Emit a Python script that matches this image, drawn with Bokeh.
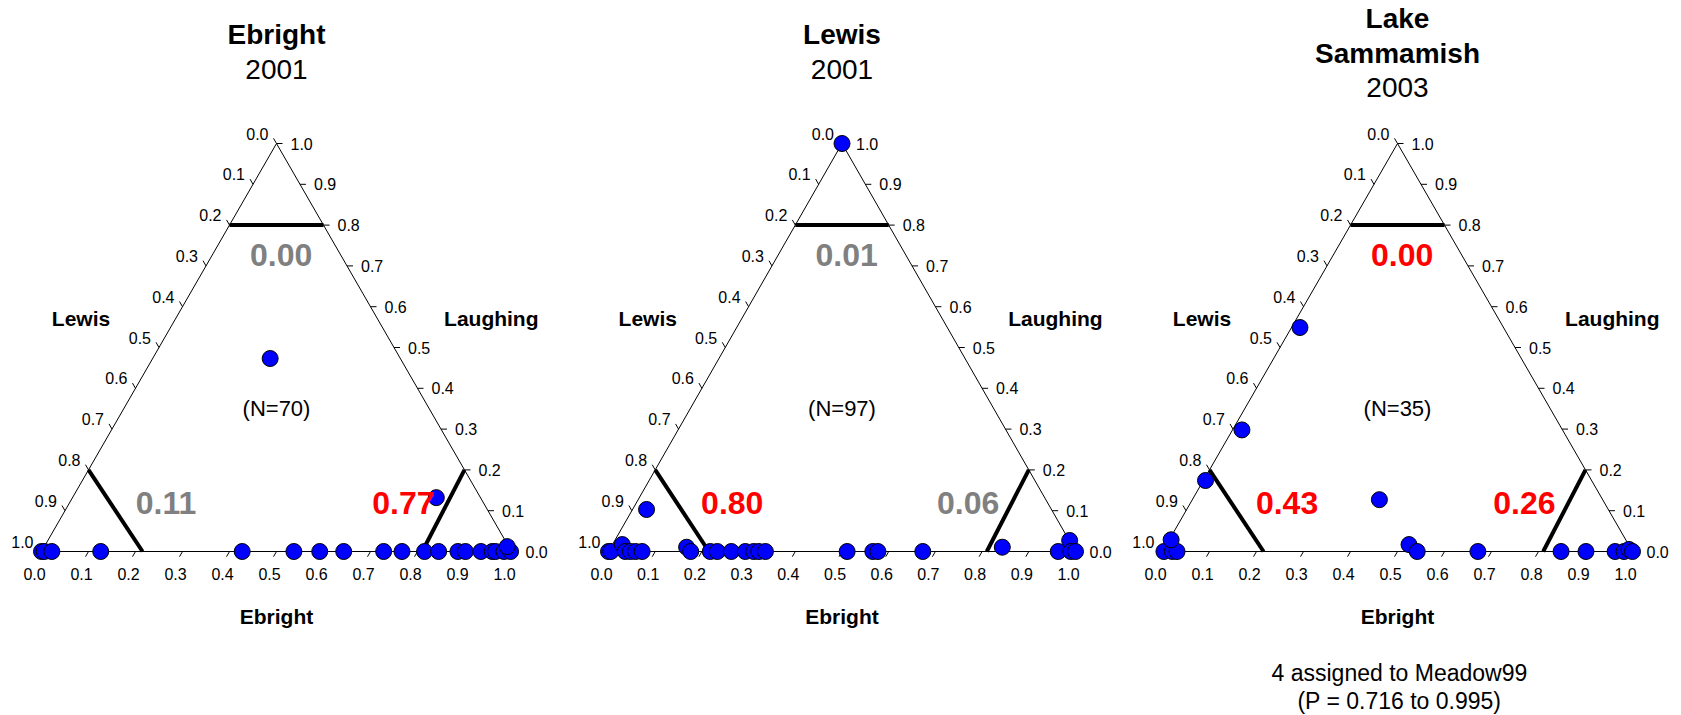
from bokeh.plotting import figure
from bokeh.layouts import row
from bokeh.models import Range1d
from bokeh.core.properties import value
from bokeh.embed import file_html
from bokeh.resources import INLINE

# ---------------- data ----------------
titles = [["Ebright", "2001"], ["Lewis", "2001"], ["Lake", "Sammamish", "2003"]]
n_labels = ["(N=70)", "(N=97)", "(N=35)"]
prob_top = ["0.00", "0.01", "0.00"]
prob_left = ["0.11", "0.80", "0.43"]
prob_right = ["0.77", "0.06", "0.26"]
col_top = ["#808080", "#808080", "#ff0000"]
col_left = ["#808080", "#ff0000", "#ff0000"]
col_right = ["#ff0000", "#808080", "#ff0000"]

# Ebright and Laughing proportions of each fish (Lewis = 1 - both)
ebright_1 = [0.0, 0.006, 0.022, 0.126, 0.427, 0.537, 0.592, 0.643, 0.728, 0.767,
             0.815, 0.845, 0.886, 0.902, 0.935, 0.959, 0.966, 0.984, 0.998, 0.985,
             0.774, 0.25]
laughing_1 = [0.0, 0.0, 0.0, 0.0, 0.0, 0.0, 0.0, 0.0, 0.0, 0.0,
              0.0, 0.0, 0.0, 0.0, 0.0, 0.0, 0.0, 0.0, 0.0, 0.012,
              0.132, 0.473]

ebright_2 = [0.0, 0.03, 0.0, 0.005, 0.021, 0.036, 0.047, 0.058, 0.072, 0.162,
             0.176, 0.218, 0.233, 0.263, 0.293, 0.311, 0.322, 0.336, 0.511, 0.566,
             0.577, 0.673, 0.838, 0.963, 0.974, 0.99, 1.0]
laughing_2 = [1.0, 0.103, 0.0, 0.0, 0.017, 0.0, 0.0, 0.0, 0.0, 0.0105,
              0.0, 0.0, 0.0, 0.0, 0.0, 0.0, 0.0, 0.0, 0.0, 0.0,
              0.0, 0.0, 0.0105, 0.0, 0.027, 0.0, 0.0]

ebright_3 = [0.003, 0.021, 0.031, 0.004, 0.0045, 0.02, 0.018, 0.398, 0.516, 0.542,
             0.671, 0.848, 0.901, 0.963, 0.982, 0.99, 1.0]
laughing_3 = [0.0, 0.0, 0.0, 0.0287, 0.174, 0.298, 0.549, 0.127, 0.017, 0.0,
              0.0, 0.0, 0.0, 0.0, 0.0, 0.005, 0.0]

ebright_sets = [ebright_1, ebright_2, ebright_3]
laughing_sets = [laughing_1, laughing_2, laughing_3]

tick_values = [0.0, 0.1, 0.2, 0.3, 0.4, 0.5, 0.6, 0.7, 0.8, 0.9, 1.0]
tick_labels = ["0.0", "0.1", "0.2", "0.3", "0.4", "0.5", "0.6", "0.7", "0.8", "0.9", "1.0"]

threshold = 0.8          # assignment threshold
thr_left_base = 0.215    # Ebright where the Lewis line meets the base
thr_right_base = 0.81    # Ebright where the Laughing line meets the base

footnote = ["4 assigned to Meadow99", "(P = 0.716 to 0.995)"]

# ---------------- layout ----------------
FONT = value("Liberation Sans")
FIG_H = 715
BOTTOM = 551
H = 408.0
fig_w = [565, 556, 560]
bl_px = [41, 43, 41]
W_px = [470.0, 467.0, 470.0]


def tern(e, g):
    return [a + b / 2.0 for a, b in zip(e, g)], list(g)


figs = []
for k in range(3):
    W = W_px[k]
    fx = lambda px: px / W
    fy = lambda px: px / H
    p = figure(width=fig_w[k], height=FIG_H,
               x_range=Range1d(-bl_px[k] / W, (fig_w[k] - bl_px[k]) / W),
               y_range=Range1d(-(FIG_H - BOTTOM) / H, BOTTOM / H),
               output_backend="svg", toolbar_location=None,
               x_axis_type=None, y_axis_type=None, min_border=0)
    p.outline_line_color = None
    p.background_fill_color = "white"
    p.border_fill_color = "white"
    p.xgrid.visible = False
    p.ygrid.visible = False

    # triangle
    p.line([0, 1, 0.5, 0], [0, 0, 1, 0], line_color="black", line_width=1)

    # ticks
    tl = 6.0
    xs, ys = [], []
    dlen = ((0.5 * W) ** 2 + H ** 2) ** 0.5
    for v in tick_values:
        x0, y0 = v, 0.0
        xs.append([x0, x0 - 0.5 * tl / dlen]); ys.append([y0, y0 - tl / dlen])
    for v in tick_values:
        g = 1 - v
        x0, y0 = g / 2, g
        xs.append([x0, x0 - 0.5 * tl / dlen]); ys.append([y0, y0 + tl / dlen])
    for v in tick_values:
        x0, y0 = 1 - v / 2, v
        xs.append([x0, x0 + tl / W]); ys.append([y0, y0])
    p.multi_line(xs, ys, line_color="black", line_width=1)

    # tick labels
    p.text([v - fx(7) for v in tick_values], [-fy(22)] * len(tick_values), text=tick_labels,
           text_font=FONT, text_font_size="16px", text_align="center",
           text_baseline="middle", text_color="black")
    p.text([(1 - v) / 2 - fx(8) for v in tick_values], [(1 - v) + fy(10) for v in tick_values],
           text=tick_labels, text_font=FONT, text_font_size="16px", text_align="right",
           text_baseline="middle", text_color="black")
    p.text([1 - v / 2 + fx(14) for v in tick_values], list(tick_values), text=tick_labels,
           text_font=FONT, text_font_size="16px", text_align="left",
           text_baseline="middle", text_color="black")

    # threshold lines
    g0 = 1 - threshold
    p.multi_line([[threshold / 2, 1 - threshold / 2],
                  [g0 / 2, thr_left_base],
                  [1 - g0 / 2, thr_right_base]],
                 [[threshold, threshold], [g0, 0], [g0, 0]],
                 line_color="black", line_width=4)

    # points
    px_, py_ = tern(ebright_sets[k], laughing_sets[k])
    p.scatter(px_, py_, size=16, fill_color="#0000ff", line_color="black", line_width=1)

    # axis names
    p.text([0.084], [0.571], text=["Lewis"], text_font=FONT, text_font_size="21px",
           text_font_style="bold", text_align="center", text_baseline="middle")
    p.text([0.957], [0.571], text=["Laughing"], text_font=FONT, text_font_size="21px",
           text_font_style="bold", text_align="center", text_baseline="middle")
    p.text([0.5], [-fy(65)], text=["Ebright"], text_font=FONT, text_font_size="21px",
           text_font_style="bold", text_align="center", text_baseline="middle")

    # N
    p.text([0.5], [0.35], text=[n_labels[k]], text_font=FONT, text_font_size="22px",
           text_align="center", text_baseline="middle")

    # probabilities
    p.text([0.51], [0.7255], text=[prob_top[k]], text_font=FONT, text_font_size="32px",
           text_font_style="bold", text_align="center", text_baseline="middle",
           text_color=col_top[k])
    p.text([0.265], [0.12], text=[prob_left[k]], text_font=FONT, text_font_size="32px",
           text_font_style="bold", text_align="center", text_baseline="middle",
           text_color=col_left[k])
    p.text([0.77], [0.12], text=[prob_right[k]], text_font=FONT, text_font_size="32px",
           text_font_style="bold", text_align="center", text_baseline="middle",
           text_color=col_right[k])

    # titles
    t = titles[k]
    if len(t) == 2:
        ys_t = [BOTTOM - 34, BOTTOM - 69]
    else:
        ys_t = [BOTTOM - 18, BOTTOM - 53, BOTTOM - 87]
    for i, s in enumerate(t):
        bold = i < len(t) - 1
        p.text([0.5], [fy(ys_t[i])], text=[s], text_font=FONT, text_font_size="28px",
               text_font_style="bold" if bold else "normal", text_align="center",
               text_baseline="middle")

    if k == 2:
        p.text([0.504, 0.504], [-fy(121), -fy(149)], text=footnote, text_font=FONT,
               text_font_size="23px", text_align="center", text_baseline="middle")

    figs.append(p)

layout = row(*figs)
open("out.html", "w").write(file_html(layout, INLINE))
